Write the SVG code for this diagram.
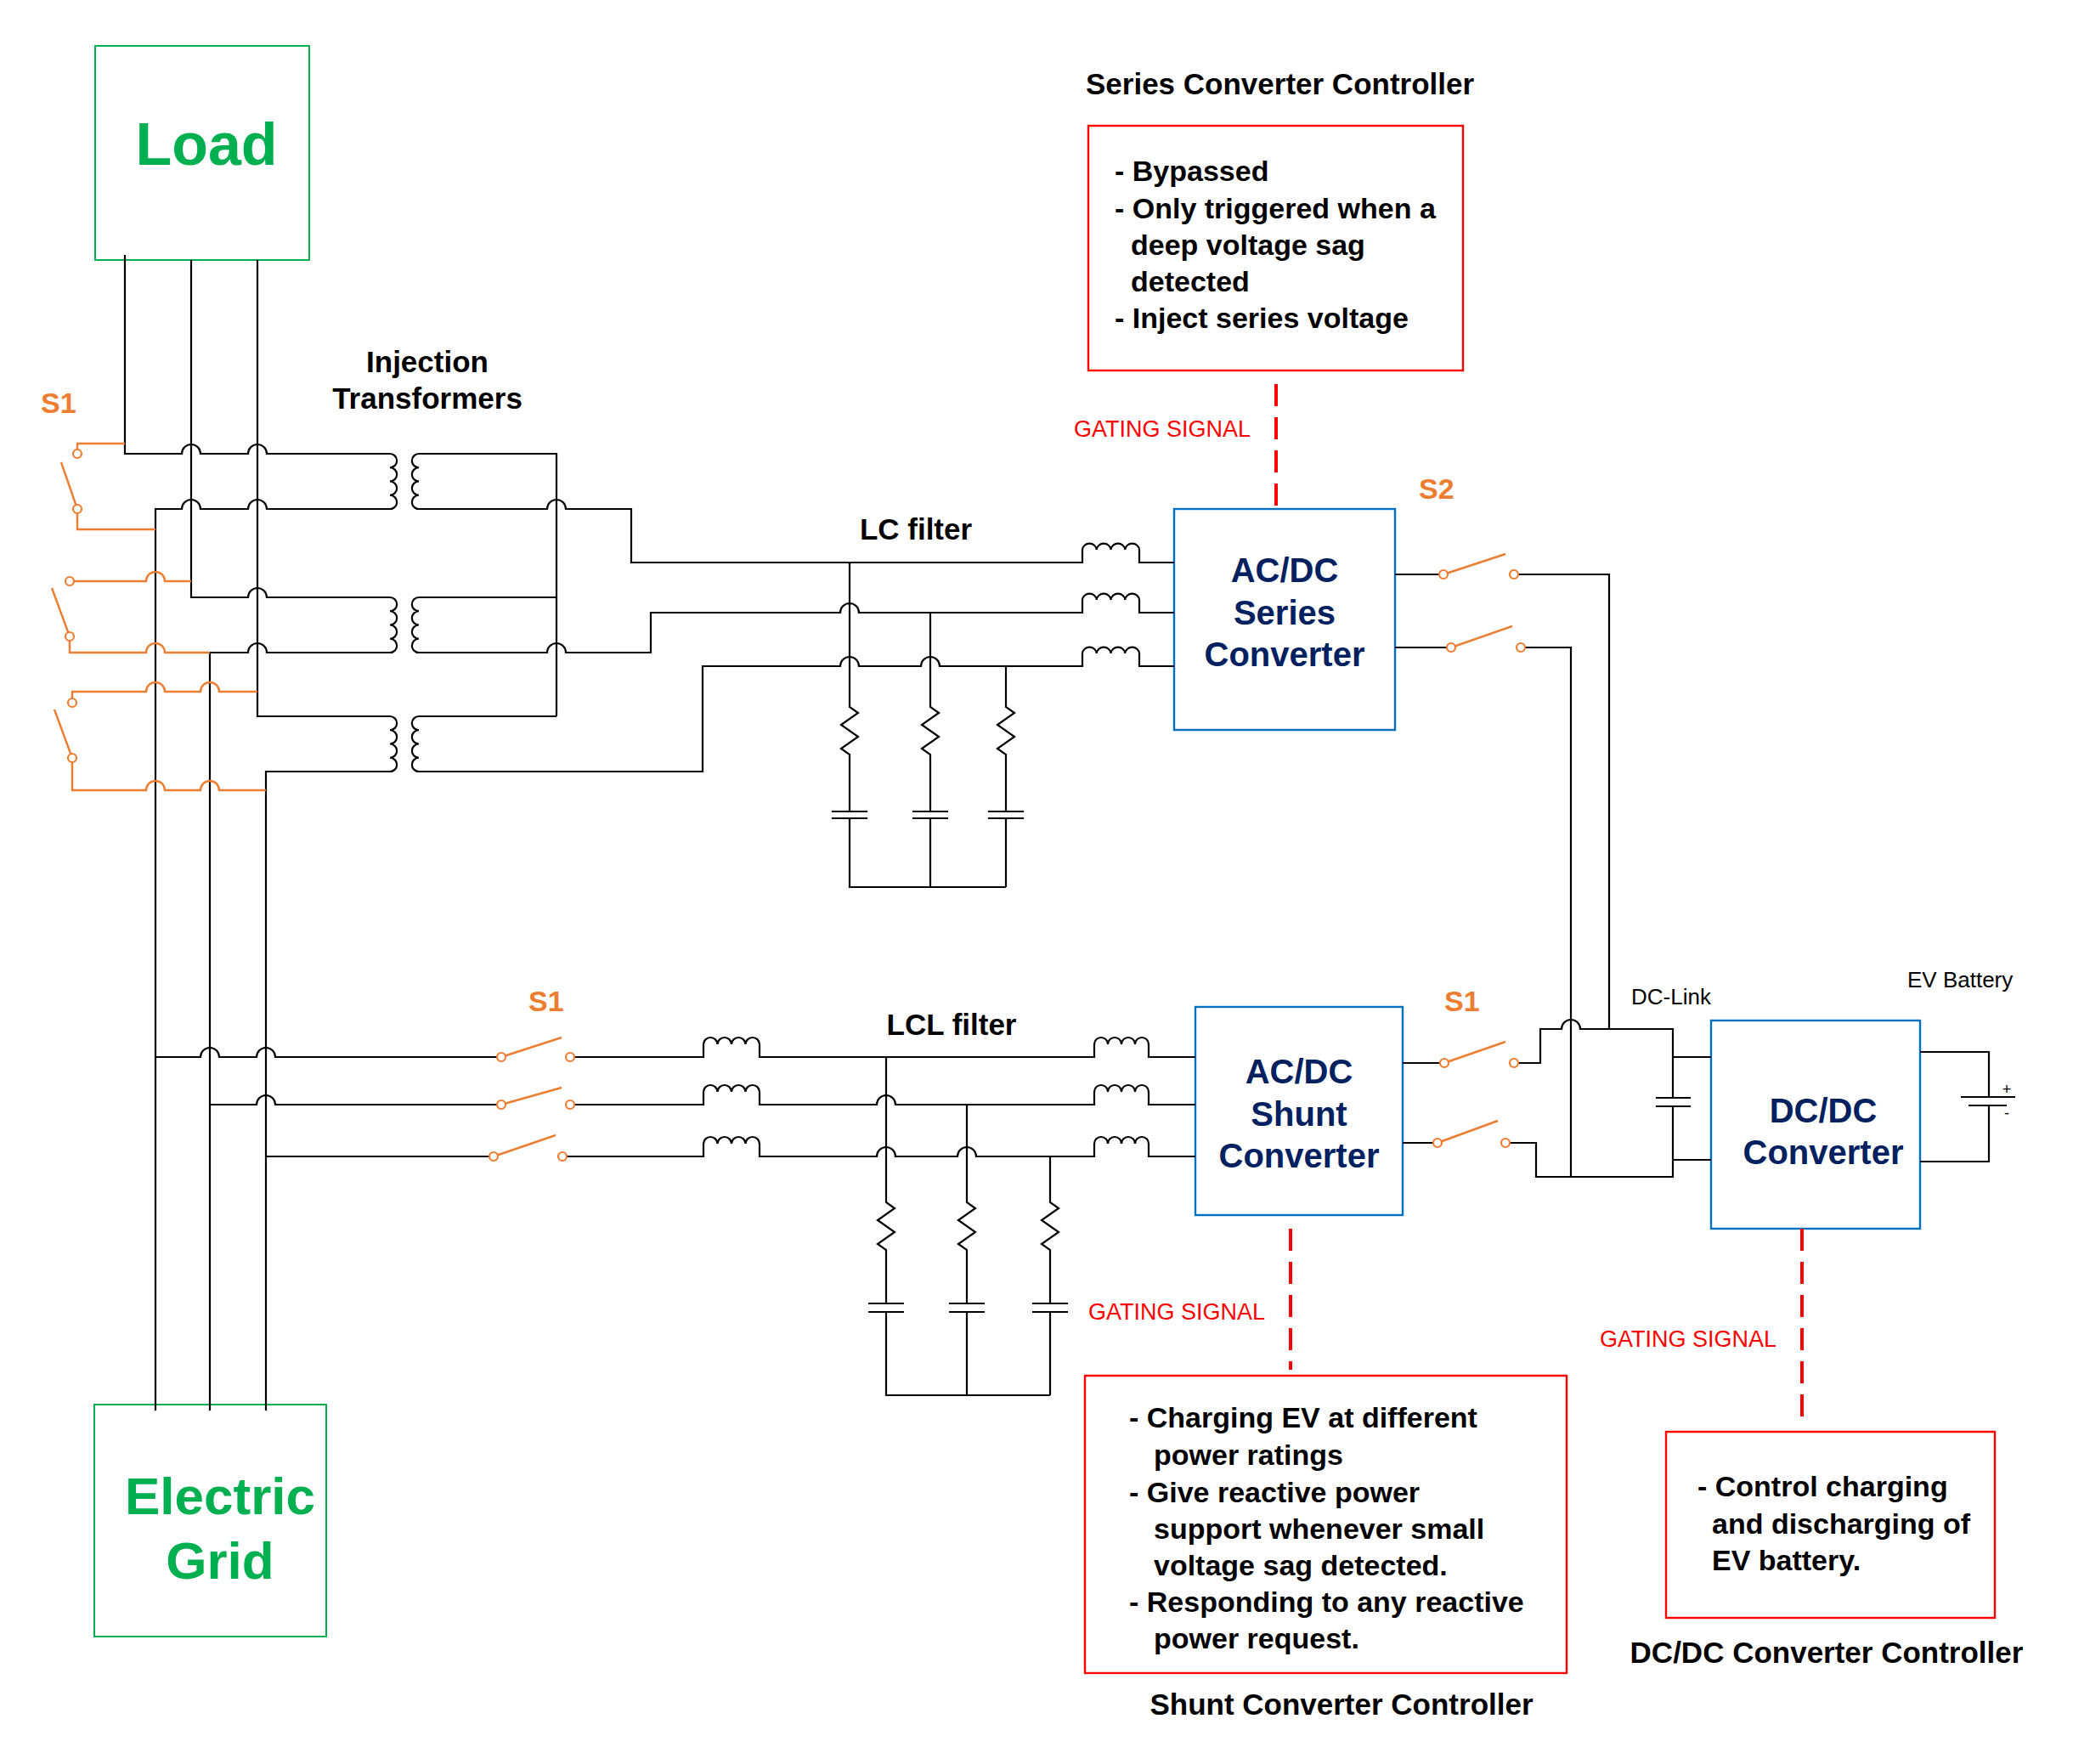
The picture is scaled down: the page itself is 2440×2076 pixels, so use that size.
<svg xmlns="http://www.w3.org/2000/svg" width="2440" height="2076" viewBox="0 0 2440 2076">
<style>
.w{fill:none;stroke:#000;stroke-width:2.2}
.o{fill:none;stroke:#ED7D31;stroke-width:2.4}
.c{fill:#fff;stroke:#ED7D31;stroke-width:2.2}
.gd{fill:none;stroke:#FF0000;stroke-width:4;stroke-dasharray:26 13}
.gb{fill:#fff;stroke:#00B050;stroke-width:2}
.bb{fill:#fff;stroke:#0070C0;stroke-width:2.4}
.rb{fill:#fff;stroke:#FF0000;stroke-width:2.4}
text{font-family:"Liberation Sans",Arial,sans-serif}
.t{font-size:35px;font-weight:bold;fill:#000}
.bx{font-size:34px;font-weight:bold;fill:#000}
.cv{font-size:40px;font-weight:bold;fill:#002060;text-anchor:middle}
.gs{font-size:27px;fill:#FF0000}
.s{font-size:34px;font-weight:bold;fill:#ED7D31}
.sm{font-size:26px;fill:#000}
.big{font-weight:bold;fill:#00B050;text-anchor:middle}
</style>
<g id="load"><rect class="gb" x="112" y="54" width="252" height="252"/><text class="big" x="243" y="194" font-size="70">Load</text></g>
<g id="grid"><rect class="gb" x="111" y="1653" width="273" height="273"/><text class="big" x="259" y="1782" font-size="62">Electric</text><text class="big" x="259" y="1858" font-size="62">Grid</text></g>
<g id="series-converter"><rect class="bb" x="1382" y="599" width="260" height="260"/><text class="cv" x="1512" y="685">AC/DC</text><text class="cv" x="1512" y="735">Series</text><text class="cv" x="1512" y="784">Converter</text></g>
<g id="shunt-converter"><rect class="bb" x="1407" y="1185" width="244" height="245"/><text class="cv" x="1529" y="1275">AC/DC</text><text class="cv" x="1529" y="1325">Shunt</text><text class="cv" x="1529" y="1374">Converter</text></g>
<g id="dcdc-converter"><rect class="bb" x="2014" y="1201" width="246" height="245"/><text class="cv" x="2146" y="1321">DC/DC</text><text class="cv" x="2146" y="1370">Converter</text></g>
<g id="series-controller"><text class="t" x="1278" y="111">Series Converter Controller</text><rect class="rb" x="1281" y="148" width="441" height="288"/>
<text class="bx" x="1312" y="213">- Bypassed</text><text class="bx" x="1312" y="257">- Only triggered when a</text><text class="bx" x="1331" y="300">deep voltage sag</text><text class="bx" x="1331" y="343">detected</text><text class="bx" x="1312" y="386">- Inject series voltage</text></g>
<g id="shunt-controller"><rect class="rb" x="1277" y="1619" width="567" height="350"/>
<text class="bx" x="1329" y="1680">- Charging EV at different</text><text class="bx" x="1358" y="1724">power ratings</text><text class="bx" x="1329" y="1768">- Give reactive power</text><text class="bx" x="1358" y="1811">support whenever small</text><text class="bx" x="1358" y="1854">voltage sag detected.</text><text class="bx" x="1329" y="1897">- Responding to any reactive</text><text class="bx" x="1358" y="1940">power request.</text>
<text class="t" x="1579" y="2018" text-anchor="middle">Shunt Converter Controller</text></g>
<g id="dcdc-controller"><rect class="rb" x="1961" y="1685" width="387" height="219"/>
<text class="bx" x="1998" y="1761">- Control charging</text><text class="bx" x="2015" y="1805">and discharging of</text><text class="bx" x="2015" y="1848">EV battery.</text>
<text class="t" x="2150" y="1957" text-anchor="middle">DC/DC Converter Controller</text></g>
<g id="labels">
<text class="t" x="503" y="438" text-anchor="middle">Injection</text><text class="t" x="503" y="481" text-anchor="middle">Transformers</text>
<text class="t" x="1078" y="635" text-anchor="middle">LC filter</text>
<text class="t" x="1120" y="1218" text-anchor="middle">LCL filter</text>
<text class="s" x="48" y="486">S1</text><text class="s" x="1670" y="587">S2</text><text class="s" x="622" y="1190">S1</text><text class="s" x="1700" y="1190">S1</text>
<text class="gs" x="1264" y="514">GATING SIGNAL</text><text class="gs" x="1281" y="1553">GATING SIGNAL</text><text class="gs" x="1883" y="1585">GATING SIGNAL</text>
<text class="sm" x="1920" y="1182">DC-Link</text><text class="sm" x="2245" y="1162">EV Battery</text>
<text x="2362" y="1288" font-size="18" text-anchor="middle">+</text><text x="2362" y="1316" font-size="18" text-anchor="middle">-</text>
</g>
<g id="connectors">
<!-- gating -->
<path class="gd" d="M1502,452V597M1519,1446V1612M2121,1446V1667"/>
<!-- load / grid phases -->
<path class="w" d="M147,300V534H214A11,11 0 0 1 236,534H292A11,11 0 0 1 314,534H459a8,8 0 0 1 0,16.25a8,8 0 0 1 0,16.25a8,8 0 0 1 0,16.25a8,8 0 0 1 0,16.25"/>
<path class="w" d="M183,1660V599H214A11,11 0 0 1 236,599H292A11,11 0 0 1 314,599H459"/>
<path class="w" d="M225,306V703H292A11,11 0 0 1 314,703H459a8,8 0 0 1 0,16.25a8,8 0 0 1 0,16.25a8,8 0 0 1 0,16.25a8,8 0 0 1 0,16.25"/>
<path class="w" d="M247,1660V768H292A11,11 0 0 1 314,768H459"/>
<path class="w" d="M303,306V843H459a8,8 0 0 1 0,16.25a8,8 0 0 1 0,16.25a8,8 0 0 1 0,16.25a8,8 0 0 1 0,16.25"/>
<path class="w" d="M313,1660V908H459"/>
<!-- secondaries -->
<path class="w" d="M655,843V534H493a8,8 0 0 0 0,16.25a8,8 0 0 0 0,16.25a8,8 0 0 0 0,16.25a8,8 0 0 0 0,16.25H644A11,11 0 0 1 666,599H743V662H1274V647a8.4,8 0 0 1 16.75,0a8.4,8 0 0 1 16.75,0a8.4,8 0 0 1 16.75,0a8.4,8 0 0 1 16.75,0V662H1382"/>
<path class="w" d="M655,703H493a8,8 0 0 0 0,16.25a8,8 0 0 0 0,16.25a8,8 0 0 0 0,16.25a8,8 0 0 0 0,16.25H644A11,11 0 0 1 666,768H766V721H989A11,11 0 0 1 1011,721H1274V706a8.4,8 0 0 1 16.75,0a8.4,8 0 0 1 16.75,0a8.4,8 0 0 1 16.75,0a8.4,8 0 0 1 16.75,0V721H1382"/>
<path class="w" d="M655,843H493a8,8 0 0 0 0,16.25a8,8 0 0 0 0,16.25a8,8 0 0 0 0,16.25a8,8 0 0 0 0,16.25H827V784H989A11,11 0 0 1 1011,784H1084A11,11 0 0 1 1106,784H1274V769a8.4,8 0 0 1 16.75,0a8.4,8 0 0 1 16.75,0a8.4,8 0 0 1 16.75,0a8.4,8 0 0 1 16.75,0V784H1382"/>
<!-- LC branches -->
<path class="w" d="M1000,662V832L1010,839L990,853L1010,867L990,881L1000,888V955M979,955H1021M979,963H1021M1000,963V1044H1184"/>
<path class="w" d="M1095,721V832L1105,839L1085,853L1105,867L1085,881L1095,888V955M1074,955H1116M1074,963H1116M1095,963V1044"/>
<path class="w" d="M1184,784V832L1194,839L1174,853L1194,867L1174,881L1184,888V955M1163,955H1205M1163,963H1205M1184,963V1044"/>
<!-- grid-side shunt lines -->
<path class="w" d="M183,1244H236A11,11 0 0 1 258,1244H302A11,11 0 0 1 324,1244H585M676,1244H828V1229a8.25,8 0 0 1 16.5,0a8.25,8 0 0 1 16.5,0a8.25,8 0 0 1 16.5,0a8.25,8 0 0 1 16.5,0V1244H1288V1229a8,8 0 0 1 16,0a8,8 0 0 1 16,0a8,8 0 0 1 16,0a8,8 0 0 1 16,0V1244H1407"/>
<path class="w" d="M247,1300H302A11,11 0 0 1 324,1300H585M676,1300H828V1285a8.25,8 0 0 1 16.5,0a8.25,8 0 0 1 16.5,0a8.25,8 0 0 1 16.5,0a8.25,8 0 0 1 16.5,0V1300H1032A11,11 0 0 1 1054,1300H1288V1285a8,8 0 0 1 16,0a8,8 0 0 1 16,0a8,8 0 0 1 16,0a8,8 0 0 1 16,0V1300H1407"/>
<path class="w" d="M313,1361H576M667,1361H828V1346a8.25,8 0 0 1 16.5,0a8.25,8 0 0 1 16.5,0a8.25,8 0 0 1 16.5,0a8.25,8 0 0 1 16.5,0V1361H1032A11,11 0 0 1 1054,1361H1127A11,11 0 0 1 1149,1361H1288V1346a8,8 0 0 1 16,0a8,8 0 0 1 16,0a8,8 0 0 1 16,0a8,8 0 0 1 16,0V1361H1407"/>
<!-- LCL branches -->
<path class="w" d="M1043,1244V1415L1053,1422L1033,1436L1053,1450L1033,1464L1043,1471V1534M1022,1534H1064M1022,1544H1064M1043,1544V1642H1236"/>
<path class="w" d="M1138,1300V1415L1148,1422L1128,1436L1148,1450L1128,1464L1138,1471V1534M1117,1534H1159M1117,1544H1159M1138,1544V1642"/>
<path class="w" d="M1236,1361V1415L1246,1422L1226,1436L1246,1450L1226,1464L1236,1471V1534M1215,1534H1257M1215,1544H1257M1236,1544V1642"/>
<!-- series side DC -->
<path class="w" d="M1642,676H1694M1787,676H1894V1211M1642,762H1703M1795,762H1849V1385"/>
<!-- shunt side DC link -->
<path class="w" d="M1651,1251H1695M1787,1251H1813V1211H1838A11,11 0 0 1 1860,1211H1969V1292M1949,1292H1990M1949,1302H1990M1969,1302V1385H1808V1345H1777M1651,1345H1687M1969,1244H2014M1969,1365H2014"/>
<!-- battery -->
<path class="w" d="M2260,1238H2341V1291M2308,1291H2372M2317,1301H2362M2341,1301V1367H2260"/>
<!-- orange switches -->
<path class="o" d="M147,522H91V529M91,599L72,544M91,604V623H183"/>
<path class="o" d="M87,684H172A11,11 0 0 1 194,684H225M82,749L61,692M82,754V768H172A11,11 0 0 1 194,768H247"/>
<path class="o" d="M85,822V814H172A11,11 0 0 1 194,814H236A11,11 0 0 1 258,814H303M85,892L64,835M85,897V930H172A11,11 0 0 1 194,930H236A11,11 0 0 1 258,930H313"/>
<path class="o" d="M1699,676L1772,652M1708,762L1780,737M590,1244L661,1221M590,1300L661,1280M581,1361L654,1336M1700,1251L1772,1226M1692,1345L1763,1319"/>
<g class="c">
<circle cx="91" cy="534" r="5"/><circle cx="91" cy="599" r="5"/><circle cx="82" cy="684" r="5"/><circle cx="82" cy="749" r="5"/><circle cx="85" cy="827" r="5"/><circle cx="85" cy="892" r="5"/>
<circle cx="1699" cy="676" r="5"/><circle cx="1782" cy="676" r="5"/><circle cx="1708" cy="762" r="5"/><circle cx="1790" cy="762" r="5"/>
<circle cx="590" cy="1244" r="5"/><circle cx="671" cy="1244" r="5"/><circle cx="590" cy="1300" r="5"/><circle cx="671" cy="1300" r="5"/><circle cx="581" cy="1361" r="5"/><circle cx="662" cy="1361" r="5"/>
<circle cx="1700" cy="1251" r="5"/><circle cx="1782" cy="1251" r="5"/><circle cx="1692" cy="1345" r="5"/><circle cx="1772" cy="1345" r="5"/>
</g>
</g>
</svg>
